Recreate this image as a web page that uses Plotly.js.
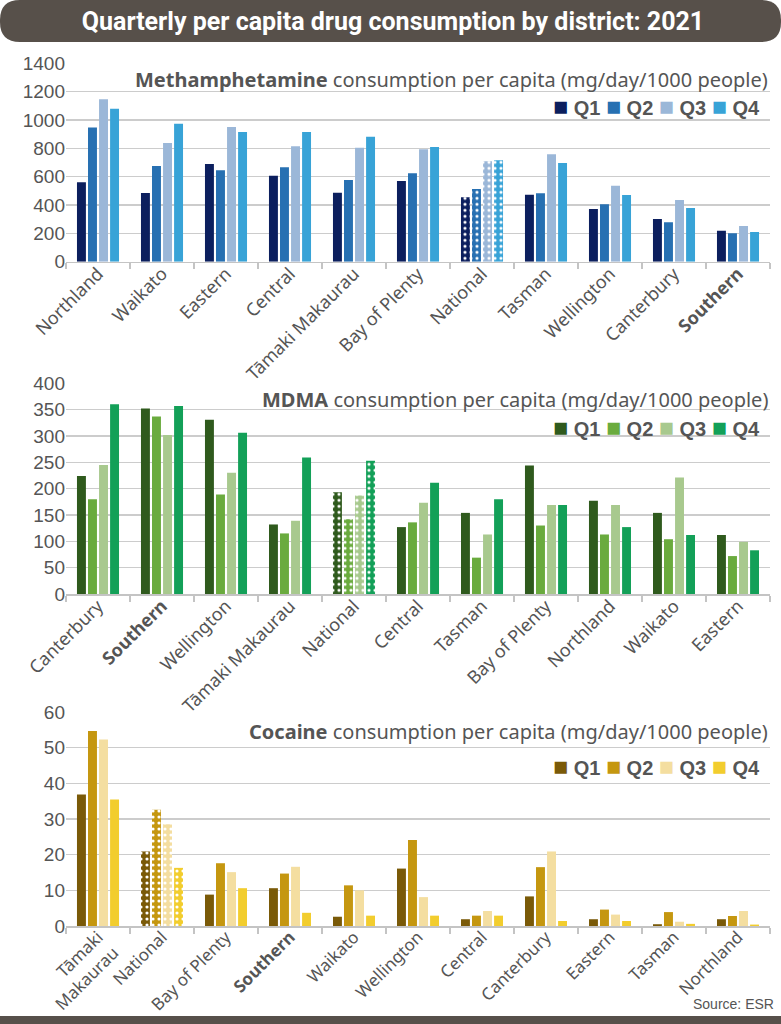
<!DOCTYPE html>
<html>
<head>
<meta charset="utf-8">
<script src="https://cdn.plot.ly/plotly-3.0.1.min.js"></script>
<style>
html,body{margin:0;padding:0;background:#fff;}
#chart{width:781px;height:1024px;}
</style>
</head>
<body>
<div id="chart"></div>
<script>
// ---------- DATA ----------
const quarters = ["Q1", "Q2", "Q3", "Q4"];

const methDistricts = ["Northland", "Waikato", "Eastern", "Central", "Tāmaki Makaurau", "Bay of Plenty", "National", "Tasman", "Wellington", "Canterbury", "Southern"];
const methQ1 = [560, 485, 690, 607, 487, 569, 454, 473, 372, 301, 219];
const methQ2 = [947, 675, 645, 666, 576, 624, 513, 483, 405, 278, 200];
const methQ3 = [1146, 838, 950, 814, 804, 793, 708, 758, 536, 435, 252];
const methQ4 = [1080, 974, 915, 915, 882, 809, 715, 696, 471, 379, 210];

const mdmaDistricts = ["Canterbury", "Southern", "Wellington", "Tāmaki Makaurau", "National", "Central", "Tasman", "Bay of Plenty", "Northland", "Waikato", "Eastern"];
const mdmaQ1 = [224, 352, 331, 132, 193, 127, 154, 244, 177, 154, 112];
const mdmaQ2 = [180, 337, 189, 115, 142, 136, 69, 130, 113, 104, 72];
const mdmaQ3 = [245, 302, 230, 139, 187, 173, 113, 169, 169, 221, 99];
const mdmaQ4 = [360, 357, 306, 259, 253, 211, 180, 169, 127, 112, 83];

const cocaDistricts = ["Tāmaki Makaurau", "National", "Bay of Plenty", "Southern", "Waikato", "Wellington", "Central", "Canterbury", "Eastern", "Tasman", "Northland"];
const cocaQ1 = [36.9, 20.9, 8.8, 10.6, 2.6, 16.1, 1.9, 8.3, 1.9, 0.5, 1.9];
const cocaQ2 = [54.7, 32.6, 17.6, 14.7, 11.4, 24.1, 2.9, 16.5, 4.6, 3.9, 2.8];
const cocaQ3 = [52.3, 28.5, 15.1, 16.6, 10.0, 8.1, 4.2, 20.9, 3.2, 1.2, 4.2];
const cocaQ4 = [35.5, 16.3, 10.6, 3.7, 2.9, 2.9, 2.9, 1.4, 1.4, 0.6, 0.4];

const methColors = ["#0c1f5e", "#2770b2", "#9bb7d8", "#38a3d7"];
const mdmaColors = ["#2f5a1d", "#6aab3e", "#a8c98e", "#13a058"];
const cocaColors = ["#7a5a08", "#c59710", "#f4dea0", "#f2cd2e"];

// ---------- HELPERS ----------
const W = 781, H = 1024;
const px = x => x / W;
const py = y => 1 - y / H;
const labelFont = "'Noto Sans', 'Open Sans', sans-serif";
const narrowFont = "'Liberation Sans', Arial, sans-serif";
const titleFont = "Roboto, 'Liberation Sans', sans-serif";

function tickText(cats) {
  return cats.map(c => c === "Southern" ? "<b>Southern</b>" : c);
}

function makeTraces(cats, series, colors, xa, ya) {
  return series.map((vals, i) => ({
    type: "bar",
    name: quarters[i],
    x: cats,
    y: vals,
    xaxis: xa,
    yaxis: ya,
    showlegend: false,
    hoverinfo: "x+y+name",
    marker: {
      color: colors[i],
      line: {width: 0},
      pattern: {
        shape: cats.map(c => c === "National" ? "." : ""),
        fgcolor: "#ffffff",
        bgcolor: colors[i],
        fillmode: "replace",
        size: 6,
        solidity: 0.22
      }
    }
  }));
}

const traces = [].concat(
  makeTraces(methDistricts, [methQ1, methQ2, methQ3, methQ4], methColors, "x", "y"),
  makeTraces(mdmaDistricts, [mdmaQ1, mdmaQ2, mdmaQ3, mdmaQ4], mdmaColors, "x2", "y2"),
  makeTraces(cocaDistricts, [cocaQ1, cocaQ2, cocaQ3, cocaQ4], cocaColors, "x3", "y3")
);

const cocaTicks = tickText(cocaDistricts).map(t => t === "Tāmaki Makaurau" ? "Tāmaki<br>Makaurau" : t);

function xAxis(cats, ticks, anchor, fsize) {
  return {
    domain: [px(66), px(770)],
    anchor: anchor,
    type: "category",
    categoryorder: "array",
    categoryarray: cats,
    tickmode: "array",
    tickvals: cats,
    ticktext: ticks,
    tickangle: -45,
    tickfont: {family: labelFont, size: fsize, color: "#555555"},
    ticks: "outside",
    tickson: "boundaries",
    ticklen: 6,
    ticklabelstandoff: -7,
    tickcolor: "#c4c4c4",
    tickwidth: 1.5,
    showline: true,
    linecolor: "#c4c4c4",
    linewidth: 1.5,
    showgrid: false,
    automargin: false,
    fixedrange: true
  };
}

function yAxis(domain, range, dtick, anchor) {
  return {
    domain: domain,
    anchor: anchor,
    range: range,
    dtick: dtick,
    tick0: 0,
    showgrid: true,
    gridcolor: "#cccccc",
    gridwidth: 1.5,
    zeroline: false,
    showline: false,
    ticks: "",
    tickfont: {family: narrowFont, size: 19, color: "#555555"},
    automargin: false,
    fixedrange: true
  };
}

function legendText(colors) {
  return quarters.map((q, i) =>
    `<span style="color:${colors[i]};font-size:25px">■</span> ${q}`).join(" ");
}

function subtitle(drug, y) {
  return {
    xref: "paper", yref: "paper",
    x: px(770), y: py(y),
    xanchor: "right", yanchor: "middle",
    showarrow: false,
    text: `<b>${drug}</b> consumption per capita (mg/day/1000 people)`,
    font: {family: labelFont, size: 20, color: "#555555"}
  };
}

function legendAnn(colors, y) {
  return {
    xref: "paper", yref: "paper",
    x: px(762), y: py(y),
    xanchor: "right", yanchor: "middle",
    showarrow: false,
    text: "<b>" + legendText(colors) + "</b>",
    font: {family: narrowFont, size: 20, color: "#555555"}
  };
}

const r = 20;
const bannerPath =
  `M ${px(r)},${py(0)} L ${px(W - r)},${py(0)} Q ${px(W)},${py(0)} ${px(W)},${py(r)} ` +
  `L ${px(W)},${py(42 - r)} Q ${px(W)},${py(42)} ${px(W - r)},${py(42)} ` +
  `L ${px(r)},${py(42)} Q ${px(0)},${py(42)} ${px(0)},${py(42 - r)} ` +
  `L ${px(0)},${py(r)} Q ${px(0)},${py(0)} ${px(r)},${py(0)} Z`;

const layout = {
  width: W, height: H,
  margin: {l: 0, r: 0, t: 0, b: 0},
  paper_bgcolor: "#ffffff",
  plot_bgcolor: "rgba(0,0,0,0)",
  barmode: "group",
  bargap: 0.31,
  bargroupgap: 0.19,
  showlegend: false,
  title: {
    text: "<b>Quarterly per capita drug consumption by district: 2021</b>",
    font: {family: titleFont, size: 25, color: "#ffffff"},
    x: px(393), xanchor: "center",
    y: py(21), yanchor: "middle",
    xref: "paper", yref: "paper"
  },
  xaxis: xAxis(methDistricts, tickText(methDistricts), "y", 18),
  yaxis: yAxis([py(261.7), py(63.3)], [0, 1400], 200, "x"),
  xaxis2: xAxis(mdmaDistricts, tickText(mdmaDistricts), "y2", 18),
  yaxis2: yAxis([py(594), py(383.3)], [0, 400], 50, "x2"),
  xaxis3: xAxis(cocaDistricts, cocaTicks, "y3", 17),
  yaxis3: yAxis([py(926), py(712)], [0, 60], 10, "x3"),
  shapes: [
    {type: "path", xref: "paper", yref: "paper", path: bannerPath,
     fillcolor: "#57504a", line: {width: 0}, layer: "below"},
    {type: "rect", xref: "paper", yref: "paper",
     x0: 0, x1: 1, y0: py(1024), y1: py(1016),
     fillcolor: "#57504a", line: {width: 0}, layer: "below"}
  ],
  annotations: [
    subtitle("Methamphetamine", 79),
    legendAnn(methColors, 106),
    subtitle("MDMA", 399),
    legendAnn(mdmaColors, 427),
    subtitle("Cocaine", 731),
    legendAnn(cocaColors, 766),
    {
      xref: "paper", yref: "paper",
      x: px(776), y: py(1004),
      xanchor: "right", yanchor: "middle",
      showarrow: false,
      text: "Source: ESR",
      font: {family: narrowFont, size: 14, color: "#555555"}
    }
  ]
};

Plotly.newPlot("chart", traces, layout, {displayModeBar: false, staticPlot: true});
</script>
</body>
</html>
